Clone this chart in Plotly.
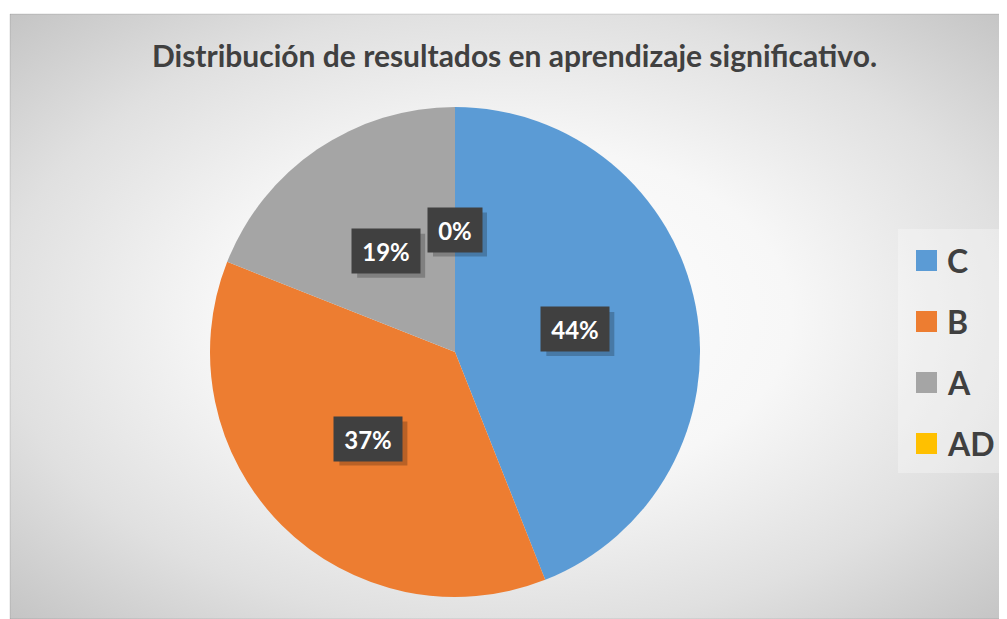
import base64
import math
import plotly.graph_objects as go

# ---- data ----
categories = ["C", "B", "A", "AD"]
values = [44, 37, 19, 0]
labels_text = ["44%", "37%", "19%", "0%"]
colors = ["#5B9BD5", "#ED7D31", "#A5A5A5", "#FFC000"]
title_text = "Distribución de resultados en aprendizaje significativo."

W, H = 1007, 619
OFF = 8  # page body margin
FW, FH = W - OFF, H - OFF
FONT = "Lato"
TXT = "#404040"

def px(x):
    return (x - OFF) / FW

def py(y):
    return 1 - (y - OFF) / FH

# pie geometry (screen pixels)
CX, CY, R = 455, 352, 245

# background radial gradient as svg
GW, GH = W - 10, H - 14
svg = f'''<svg xmlns="http://www.w3.org/2000/svg" width="{GW}" height="{GH}">
<defs><radialGradient id="g" cx="0.5" cy="0.5" r="0.71">
<stop offset="0" stop-color="#ffffff"/>
<stop offset="0.4" stop-color="#f7f7f7"/>
<stop offset="0.72" stop-color="#e0e0e0"/>
<stop offset="1" stop-color="#c4c4c4"/>
</radialGradient></defs>
<rect x="0" y="0" width="{GW}" height="{GH}" fill="url(#g)"/>
</svg>'''
svg_uri = "data:image/svg+xml;base64," + base64.b64encode(svg.encode()).decode()

fig = go.Figure()
fig.add_trace(go.Pie(
    labels=categories,
    values=values,
    marker=dict(colors=colors, line=dict(width=0)),
    sort=False,
    direction="clockwise",
    rotation=0,
    textinfo="none",
    hoverinfo="label+percent",
    showlegend=False,
    domain=dict(x=[px(CX - R), px(CX + R)], y=[py(CY + R), py(CY - R)]),
))

annotations = []
shapes = []

# data labels at half radius, slice midpoints
total = sum(values)
cum = 0
for cat, v, t in zip(categories, values, labels_text):
    mid = (cum + v / 2) / total * 2 * math.pi
    cum += v
    lx = CX + 0.5 * R * math.sin(mid)
    ly = CY - 0.5 * R * math.cos(mid)
    bw = 14 * len(t) + 18
    boxw, boxh = bw + 8, 44
    # shadow (drawn as a shape under the label box)
    shapes.append(dict(
        type="rect", xref="paper", yref="paper", layer="above",
        x0=px(lx - boxw / 2 + 5), x1=px(lx + boxw / 2 + 5),
        y0=py(ly + boxh / 2 + 5), y1=py(ly - boxh / 2 + 5),
        fillcolor="rgba(0,0,0,0.22)", line=dict(width=0),
    ))
    annotations.append(dict(
        x=px(lx), y=py(ly), xref="paper", yref="paper", showarrow=False,
        xanchor="center", yanchor="middle",
        text=f"<b>{t}</b>", font=dict(family=FONT, size=24, color="white"),
        bgcolor="#404040", borderpad=4, width=bw, height=36,
    ))

# title
annotations.append(dict(
    x=px(514), y=py(55), xref="paper", yref="paper", showarrow=False,
    text=f"<b>{title_text}</b>", font=dict(family=FONT, size=30, color=TXT),
    xanchor="center", yanchor="middle",
))

# custom legend
shapes.append(dict(type="rect", xref="paper", yref="paper",
                   x0=px(898), x1=px(1003), y0=py(473), y1=py(229),
                   fillcolor="rgba(255,255,255,0.3)", line=dict(width=0), layer="below"))
for i, (cat, col) in enumerate(zip(categories, colors)):
    yc = 260.5 + i * 61
    shapes.append(dict(type="rect", xref="paper", yref="paper",
                       x0=px(916), x1=px(937), y0=py(yc + 10.5), y1=py(yc - 10.5),
                       fillcolor=col, line=dict(width=0)))
    annotations.append(dict(
        x=px(945), y=py(yc), xref="paper", yref="paper", showarrow=False,
        text=f"<b>{cat}</b>", font=dict(family=FONT, size=32, color=TXT),
        xanchor="left", yanchor="middle",
    ))

# chart area border
shapes.append(dict(type="rect", xref="paper", yref="paper",
                   x0=px(10), x1=1, y0=0, y1=py(14),
                   line=dict(color="rgba(0,0,0,0.12)", width=1), layer="below"))

fig.update_layout(
    width=FW, height=FH,
    margin=dict(l=0, r=0, t=0, b=0),
    paper_bgcolor="white",
    plot_bgcolor="white",
    images=[dict(source=svg_uri, xref="paper", yref="paper",
                 x=px(10), y=py(14), sizex=1 - px(10), sizey=py(14),
                 xanchor="left", yanchor="top", sizing="stretch", layer="below")],
    annotations=annotations,
    shapes=shapes,
)

fig.write_html("out.html")
